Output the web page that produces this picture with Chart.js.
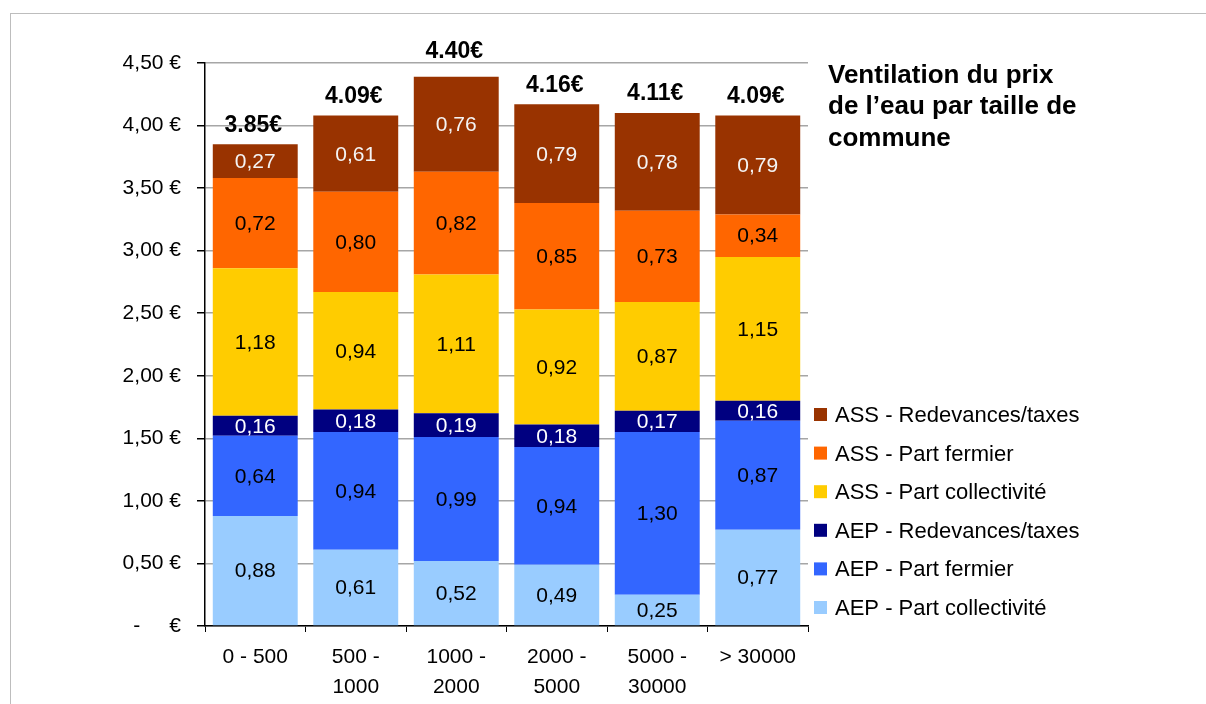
<!DOCTYPE html>
<html>
<head>
<meta charset="utf-8">
<script src="https://cdn.jsdelivr.net/npm/chart.js@4.4.1/dist/chart.umd.min.js"></script>
<style>
html,body{margin:0;padding:0;background:#fff;}
#wrap{position:relative;width:1206px;height:704px;overflow:hidden;}
#frame{position:absolute;left:10px;top:13px;width:1300px;height:800px;border-left:1.5px solid #bdbdbd;border-top:1.5px solid #bdbdbd;}
canvas{position:absolute;left:0;top:0;}
</style>
</head>
<body>
<div id="wrap"><div id="frame"></div><canvas id="c" width="1206" height="704"></canvas></div>
<script>
const categories = [["0 - 500"], ["500 -", "1000"], ["1000 -", "2000"], ["2000 -", "5000"], ["5000 -", "30000"], ["> 30000"]];
const aepCollectivite = [0.88, 0.61, 0.52, 0.49, 0.25, 0.77];
const aepFermier = [0.64, 0.94, 0.99, 0.94, 1.30, 0.87];
const aepRedevances = [0.16, 0.18, 0.19, 0.18, 0.17, 0.16];
const assCollectivite = [1.18, 0.94, 1.11, 0.92, 0.87, 1.15];
const assFermier = [0.72, 0.80, 0.82, 0.85, 0.73, 0.34];
const assRedevances = [0.27, 0.61, 0.76, 0.79, 0.78, 0.79];
const totalLabels = ["3.85€", "4.09€", "4.40€", "4.16€", "4.11€", "4.09€"];
const yTickLabels = {"0": "-     €", "0.5": "0,50 €", "1": "1,00 €", "1.5": "1,50 €", "2": "2,00 €", "2.5": "2,50 €", "3": "3,00 €", "3.5": "3,50 €", "4": "4,00 €", "4.5": "4,50 €"};
const titleLines = ["Ventilation du prix", "de l\u2019eau par taille de", "commune"];

const FONT = "'Liberation Sans', Arial, sans-serif";

const datasets = [
  {label: "AEP - Part collectivité", data: aepCollectivite, backgroundColor: "#99CCFF", textColor: "#000"},
  {label: "AEP - Part fermier", data: aepFermier, backgroundColor: "#3366FF", textColor: "#000"},
  {label: "AEP - Redevances/taxes", data: aepRedevances, backgroundColor: "#000080", textColor: "#fff"},
  {label: "ASS - Part collectivité", data: assCollectivite, backgroundColor: "#FFCC00", textColor: "#000"},
  {label: "ASS - Part fermier", data: assFermier, backgroundColor: "#FF6600", textColor: "#000"},
  {label: "ASS - Redevances/taxes", data: assRedevances, backgroundColor: "#993300", textColor: "#f4f4f4"}
];

const labelPlugin = {
  id: 'labels',
  afterDatasetsDraw(chart) {
    const ctx = chart.ctx;
    ctx.save();
    ctx.textAlign = 'center';
    ctx.textBaseline = 'middle';
    ctx.font = "21px " + FONT;
    chart.data.datasets.forEach((ds, i) => {
      const meta = chart.getDatasetMeta(i);
      meta.data.forEach((bar, j) => {
        const v = ds.data[j];
        const yc = (bar.y + bar.base) / 2;
        ctx.fillStyle = ds.textColor;
        ctx.fillText(v.toFixed(2).replace('.', ','), bar.x, yc + 1);
      });
    });
    // totals
    const topMeta = chart.getDatasetMeta(chart.data.datasets.length - 1);
    ctx.font = "bold 23px " + FONT;
    ctx.fillStyle = "#000";
    const top = chart.chartArea.top;
    topMeta.data.forEach((bar, j) => {
      let y = bar.y - 19;
      if (y - 11 < top) y = Math.min(y, top - 11);
      ctx.fillText(totalLabels[j], bar.x - 2, y);
    });
    // title
    ctx.textAlign = 'left';
    ctx.textBaseline = 'alphabetic';
    ctx.font = "bold 26px " + FONT;
    titleLines.forEach((t, k) => ctx.fillText(t, 828, 83 + k * 31.3));
    // legend
    ctx.font = "22px " + FONT;
    const n = chart.data.datasets.length;
    for (let k = 0; k < n; k++) {
      const ds = chart.data.datasets[n - 1 - k];
      const y = 414.5 + k * 38.6;
      ctx.fillStyle = ds.backgroundColor;
      ctx.fillRect(814, y - 6.5, 13, 13);
      ctx.fillStyle = "#000";
      ctx.fillText(ds.label, 835, y + 7.5);
    }
    ctx.restore();
  }
};

new Chart(document.getElementById('c'), {
  type: 'bar',
  data: {labels: categories, datasets: datasets},
  options: {
    responsive: false,
    animation: false,
    devicePixelRatio: 1,
    layout: {padding: {left: 0, right: 398, top: 63, bottom: 0}},
    datasets: {bar: {barPercentage: 0.845, categoryPercentage: 1.0}},
    plugins: {legend: {display: false}, tooltip: {enabled: false}},
    scales: {
      x: {
        stacked: true,
        afterFit(s) { s.height = 78; },
        border: {color: '#000', width: 1.5},
        grid: {drawOnChartArea: false, drawTicks: true, tickLength: 6, tickColor: '#000', offset: true},
        ticks: {color: '#000', font: {family: FONT, size: 21, lineHeight: 1.42}, padding: 10, maxRotation: 0}
      },
      y: {
        stacked: true,
        min: 0, max: 4.5,
        afterFit(s) { s.width = 205; },
        border: {color: '#000', width: 1.5},
        grid: {color: '#a6a6a6', lineWidth: 1.5, tickLength: 8, tickColor: '#000', drawTicks: true},
        ticks: {
          stepSize: 0.5,
          color: '#000',
          padding: 16,
          font: {family: FONT, size: 21},
          callback: (v) => yTickLabels[String(Math.round(v * 10) / 10)]
        }
      }
    }
  },
  plugins: [labelPlugin]
});
</script>
</body>
</html>
